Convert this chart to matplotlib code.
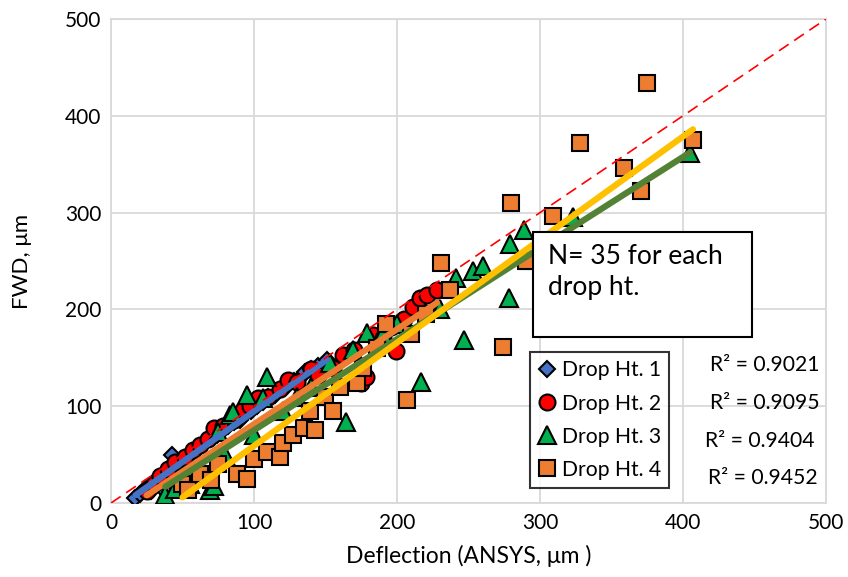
import numpy as np
import matplotlib
matplotlib.use("Agg")
from matplotlib import pyplot as plt
from matplotlib.patches import Rectangle

plt.rcParams['font.family'] = ['Lato', 'DejaVu Sans']

# deflection (ANSYS) vs FWD, one list pair per drop height
drop1_x = [17, 20, 24, 28, 30, 33, 38, 40, 43, 47, 50, 55, 58, 62, 66, 70, 74, 78,
           82, 86, 90, 94, 98, 102, 106, 110, 115, 120, 124, 128, 133, 136, 140, 145, 151]
drop1_y = [5, 9, 14, 12, 22, 25, 12, 35, 50, 40, 44, 50, 55, 58, 63, 68, 70, 75,
           80, 84, 86, 92, 95, 100, 104, 110, 112, 118, 122, 126, 130, 135, 138, 142, 148]

drop2_x = [25, 30, 34, 40, 45, 52, 57, 62, 68, 72, 78, 86, 92, 97, 103, 110, 118, 124,
           130, 140, 145, 155, 162, 170, 175, 178, 183, 190, 196, 199, 205, 211, 216, 221, 228]
drop2_y = [12, 20, 28, 35, 42, 48, 55, 60, 66, 78, 80, 86, 96, 100, 108, 110, 118, 127,
           125, 138, 132, 140, 153, 158, 124, 130, 174, 170, 182, 157, 190, 203, 212, 215, 220]

drop3_x = [38, 45, 55, 62, 69, 72, 75, 80, 83, 85, 95, 100, 106, 109, 120, 130, 140, 153,
           164, 169, 179, 190, 200, 217, 230, 241, 247, 253, 260, 278, 279, 289, 293, 323, 405]
drop3_y = [8, 15, 20, 27, 13, 18, 73, 50, 91, 94, 112, 70, 108, 130, 95, 110, 120, 145,
           84, 158, 176, 175, 185, 125, 200, 232, 168, 240, 245, 212, 268, 282, 251, 295, 362]

drop4_x = [50, 54, 62, 70, 75, 88, 95, 100, 109, 118, 120, 127, 135, 139, 143, 150, 155, 160,
           172, 176, 186, 192, 207, 210, 220, 231, 237, 274, 280, 290, 309, 328, 359, 371, 375, 407]
drop4_y = [20, 13, 30, 24, 40, 30, 25, 45, 53, 48, 62, 70, 78, 95, 75, 110, 95, 120,
           124, 140, 160, 185, 106, 175, 195, 248, 220, 161, 310, 250, 297, 372, 346, 322, 434, 375]

# linear trend (slope, intercept) and R² per drop height
trend_slope = [1.045, 0.98, 0.941, 1.065]
trend_icept = [-9.8, -16.5, -18.9, -47.4]
r_squared = ["0.9021", "0.9095", "0.9404", "0.9452"]

labels = ["Drop Ht. 1", "Drop Ht. 2", "Drop Ht. 3", "Drop Ht. 4"]
xs = [drop1_x, drop2_x, drop3_x, drop4_x]
ys = [drop1_y, drop2_y, drop3_y, drop4_y]
markers = ["D", "o", "^", "s"]
msizes = [8.5, 11.5, 13.5, 12]
face = ["#4472C4", "#FF0000", "#00B050", "#ED7D31"]
trend_col = ["#4472C4", "#ED7D31", "#548235", "#FFC000"]

fig = plt.figure(figsize=(8.48, 5.77), dpi=100)
ax = fig.add_axes([0.1309, 0.1282, 0.8431, 0.8388])

for i in range(4):
    ax.plot(xs[i], ys[i], linestyle="none", marker=markers[i], markersize=msizes[i],
            markerfacecolor=face[i], markeredgecolor="black", markeredgewidth=1.5,
            label=labels[i], zorder=3 + i)

for i in range(4):
    xx = np.array([min(xs[i]), max(xs[i])])
    ax.plot(xx, trend_slope[i]*xx + trend_icept[i], color=trend_col[i], lw=4.5,
            solid_capstyle="round", zorder=10 + i)

ax.plot([0, 500], [0, 500], color="#FF0000", lw=1.2, dashes=(7, 4), zorder=20)

ax.set_xlim(0, 500)
ax.set_ylim(0, 500)
ax.set_xticks(np.arange(0, 501, 100))
ax.set_yticks(np.arange(0, 501, 100))
ax.grid(True, color="#D9D9D9", lw=1.3)
ax.set_axisbelow(True)
for s in ax.spines.values():
    s.set_color("#D9D9D9")
    s.set_linewidth(1.3)
ax.tick_params(length=0, labelsize=15, pad=7)
ax.set_xlabel("Deflection (ANSYS, μm )", fontsize=16.5, labelpad=9)
ax.set_ylabel("FWD, μm", fontsize=16, labelpad=24)

leg = ax.legend(loc="upper left", bbox_to_anchor=(0.586, 0.312), fontsize=15.2,
                frameon=True, fancybox=False, handlelength=0.8, handletextpad=0.3,
                borderpad=0.4, labelspacing=0.62, borderaxespad=0)
leg.get_frame().set_edgecolor("black")
leg.get_frame().set_linewidth(1.5)
leg.set_zorder(30)

# note box
ax.add_patch(Rectangle((0.590, 0.343), 0.306, 0.217, transform=ax.transAxes,
                       facecolor="white", edgecolor="black", lw=1.5, zorder=29))
ax.text(0.611, 0.535, "N= 35 for each\ndrop ht.", transform=ax.transAxes, fontsize=19,
        va="top", ha="left", linespacing=1.3, zorder=30)

r2_pos = [(0.915, 0.285), (0.915, 0.206), (0.908, 0.128), (0.911, 0.052)]
for (px, py), r in zip(r2_pos, r_squared):
    ax.text(px, py, "R² = " + r, transform=ax.transAxes, fontsize=15.2,
            ha="center", va="center", zorder=30)

fig.savefig("out.png", dpi=100)
